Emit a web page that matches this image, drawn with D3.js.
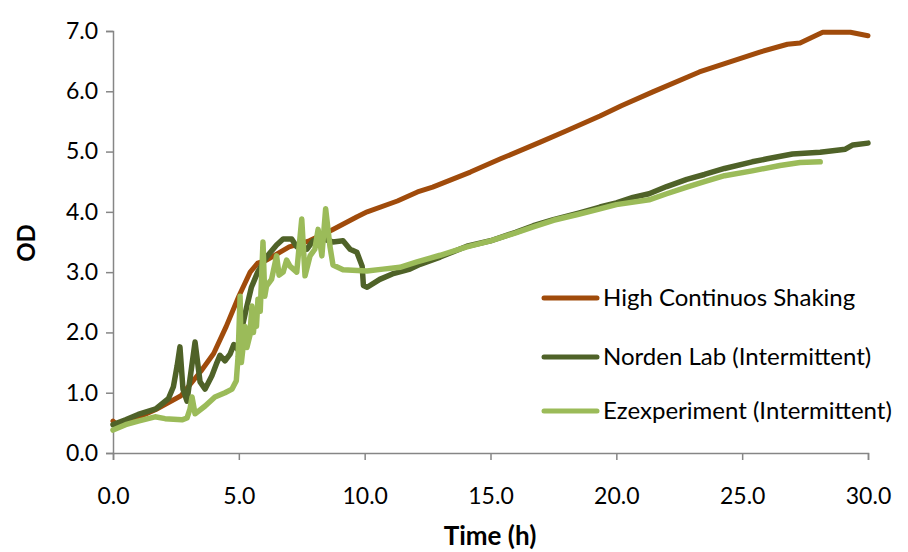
<!DOCTYPE html>
<html>
<head>
<meta charset="utf-8">
<script src="https://cdn.jsdelivr.net/npm/d3@7"></script>
<style>
  html, body { margin: 0; padding: 0; background: #fff; }
  svg { display: block; font-family: Lato, "Open Sans", sans-serif; }
</style>
</head>
<body>
<svg id="chart" width="908" height="552"></svg>
<script>
// Growth curves: optical density over time, [hours, OD]
const highShaking = [
  [0,0.53],[0.2,0.45],[0.8,0.55],[1.7,0.72],[2.7,0.95],[3.5,1.36],[4.0,1.65],[4.5,2.1],
  [5.0,2.6],[5.45,3.0],[5.75,3.15],[6.1,3.2],[7.0,3.42],[7.8,3.52],[8.7,3.7],[9.7,3.92],
  [10.1,4.0],[11.3,4.18],[12.1,4.33],[12.7,4.41],[14.2,4.66],[15.4,4.88],[17.0,5.16],
  [18.0,5.34],[19.35,5.59],[20.2,5.76],[21.45,5.99],[23.3,6.32],[25.7,6.65],[26.8,6.78],
  [27.3,6.8],[28.2,6.98],[29.3,6.98],[30,6.92]
];
const nordenLab = [
  [0,0.47],[0.5,0.55],[1.0,0.64],[1.7,0.73],[2.2,0.9],[2.4,1.1],[2.55,1.45],[2.66,1.76],
  [2.78,1.06],[2.94,0.86],[3.06,1.23],[3.26,1.84],[3.46,1.18],[3.66,1.06],[3.93,1.28],
  [4.13,1.5],[4.25,1.62],[4.45,1.53],[4.65,1.64],[4.8,1.8],[4.95,1.72],[5.12,2.06],
  [5.3,2.4],[5.5,2.75],[5.75,3.0],[6.1,3.25],[6.5,3.45],[6.76,3.55],[7.1,3.55],[7.3,3.42],
  [7.7,3.38],[7.95,3.52],[8.35,3.55],[8.74,3.5],[9.14,3.52],[9.42,3.38],[9.69,3.33],
  [9.9,3.1],[9.95,2.78],[10.1,2.75],[10.6,2.88],[11.1,2.97],[11.8,3.05],[12.2,3.13],
  [13.0,3.25],[14.06,3.43],[15.0,3.52],[16.0,3.66],[16.7,3.77],[17.5,3.87],[18.5,3.98],
  [19.35,4.08],[20.0,4.15],[20.66,4.24],[21.3,4.3],[22.0,4.42],[22.8,4.54],[23.5,4.62],
  [24.3,4.72],[25.4,4.83],[26.0,4.88],[27.0,4.96],[28.1,4.99],[29.1,5.04],[29.4,5.11],[30,5.14]
];
const ezexperiment = [
  [0,0.38],[0.5,0.47],[1.0,0.53],[1.67,0.6],[2.07,0.57],[2.74,0.55],[2.94,0.58],[3.06,0.73],
  [3.14,0.93],[3.26,0.65],[3.66,0.78],[4.05,0.93],[4.45,1.0],[4.73,1.06],[4.9,1.2],[4.97,1.6],
  [5.05,2.6],[5.1,1.5],[5.16,1.72],[5.25,2.1],[5.32,1.75],[5.44,1.95],[5.52,2.44],[5.58,2.0],
  [5.64,2.27],[5.7,2.1],[5.76,2.55],[5.85,2.35],[5.96,3.5],[6.03,2.6],[6.1,2.77],
  [6.3,2.88],[6.5,3.27],[6.6,2.95],[6.76,3.0],[6.9,3.2],[7.03,3.1],[7.3,3.0],[7.5,3.88],[7.63,2.94],[7.83,3.27],
  [8.02,3.38],[8.15,3.71],[8.3,3.27],[8.45,4.05],[8.62,3.43],[8.74,3.12],[9.14,3.04],
  [10.09,3.02],[10.73,3.05],[11.4,3.08],[12.08,3.17],[13.0,3.28],[14.06,3.42],[15.0,3.52],
  [16.0,3.65],[16.7,3.75],[17.5,3.86],[18.5,3.96],[19.35,4.05],[20.0,4.12],[21.3,4.2],
  [22.0,4.3],[22.8,4.41],[23.5,4.5],[24.3,4.6],[25.4,4.68],[26.5,4.77],[27.3,4.82],[28.1,4.83]
];
const seriesNames = ["High Continuos Shaking", "Norden Lab (Intermittent)", "Ezexperiment (Intermittent)"];
const seriesColors = ["#A04B0B", "#4F6228", "#9BBB59"];
const xTicks = [0, 5, 10, 15, 20, 25, 30];
const yTicks = [0, 1, 2, 3, 4, 5, 6, 7];

const svg = d3.select("#chart");
const x = d3.scaleLinear().domain([0, 30]).range([113, 868]);
const y = d3.scaleLinear().domain([0, 7]).range([453, 31]);
const axisColor = "#868686";

// Y axis
const yAxis = svg.append("g").attr("transform", `translate(${x(0)},0)`)
  .call(d3.axisLeft(y).tickValues(yTicks).tickFormat(d3.format(".1f")).tickSize(7).tickPadding(8));
// X axis
const xAxis = svg.append("g").attr("transform", `translate(0,${y(0)})`)
  .call(d3.axisBottom(x).tickValues(xTicks).tickFormat(d3.format(".1f")).tickSize(7).tickPadding(28));
[yAxis, xAxis].forEach(g => {
  g.select(".domain").attr("stroke", axisColor).attr("stroke-width", 1.5);
  g.selectAll(".tick line").attr("stroke", axisColor).attr("stroke-width", 1.5);
  g.selectAll(".tick text").attr("fill", "#000").style("font-size", "23px")
    .style("font-family", "Lato, 'Open Sans', sans-serif");
});

// Axis titles
svg.append("text").attr("x", 490).attr("y", 545).attr("text-anchor", "middle")
  .style("font-size", "26px").style("font-weight", "bold").text("Time (h)");
svg.append("text").attr("transform", "translate(35,243) rotate(-90)").attr("text-anchor", "middle")
  .style("font-size", "24px").style("font-weight", "bold").text("OD");

// Curves
const line = d3.line().x(d => x(d[0])).y(d => y(d[1]));
const allSeries = [highShaking, nordenLab, ezexperiment];
const widths = [5, 5.5, 5.5];
allSeries.forEach((s, i) => {
  svg.append("path").datum(s).attr("d", line).attr("fill", "none")
    .attr("stroke", seriesColors[i]).attr("stroke-width", widths[i])
    .attr("stroke-linejoin", "round").attr("stroke-linecap", "round");
});

// Legend
const legend = svg.append("g");
const legendY = [298, 357, 411];
seriesNames.forEach((name, i) => {
  legend.append("line").attr("x1", 544).attr("x2", 597)
    .attr("y1", legendY[i]).attr("y2", legendY[i])
    .attr("stroke", seriesColors[i]).attr("stroke-width", 5).attr("stroke-linecap", "round");
  legend.append("text").attr("x", 603).attr("y", legendY[i] + 8)
    .style("font-size", "24px").attr("fill", "#000").text(name);
});
</script>
</body>
</html>
